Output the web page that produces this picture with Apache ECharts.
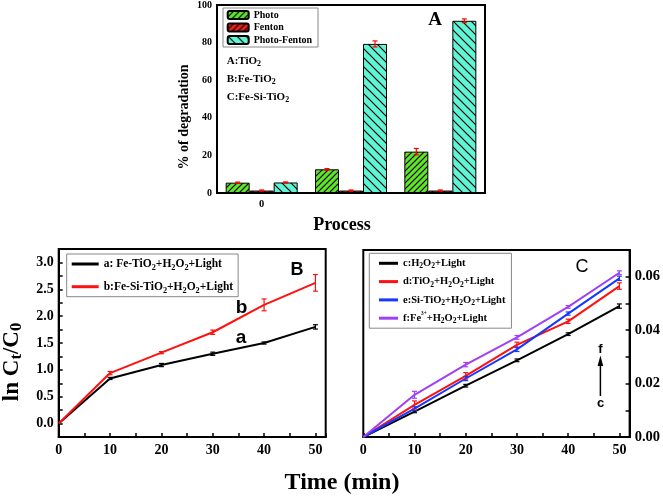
<!DOCTYPE html>
<html><head><meta charset="utf-8">
<script src="https://cdn.jsdelivr.net/npm/echarts@6/dist/echarts.min.js"></script>
<style>html,body{margin:0;padding:0;background:#fff}#c{width:663px;height:497px}</style>
</head><body><div id="c"></div>
<script>
// ---------- Panel A data ----------
const processCategories = ['0', '', ''];
const photoValues = [5.5, 12.6, 22.0];
const photoErrors = [0.3, 0.4, 1.7];
const fentonValues = [1.3, 1.3, 1.3];
const fentonErrors = [0.3, 0.3, 0.3];
const photoFentonValues = [5.6, 79.3, 91.6];
const photoFentonErrors = [0.3, 1.6, 1.0];
const yTicksA = [0, 20, 40, 60, 80, 100];

// ---------- Panel B data ----------
const timeB = [0, 10, 20, 30, 40, 50];
const lineA_B = [0, 0.84, 1.09, 1.30, 1.50, 1.80];
const errA_B = [0, 0.02, 0.03, 0.03, 0.02, 0.04];
const lineB_B = [0, 0.94, 1.32, 1.70, 2.21, 2.62];
const errB_B = [0, 0.03, 0.02, 0.04, 0.11, 0.155];

// ---------- Panel C data ----------
const timeC = [0, 10, 20, 30, 40, 50];
const cVals = [0, 0.0095, 0.0192, 0.0287, 0.0385, 0.0490];
const cErr = [0, 0.0004, 0.0005, 0.0005, 0.0005, 0.0008];
const dVals = [0, 0.0120, 0.0229, 0.0345, 0.0433, 0.0565];
const dErr = [0, 0.0015, 0.0012, 0.0010, 0.0008, 0.0012];
const eVals = [0, 0.0106, 0.0219, 0.0328, 0.0462, 0.0594];
const eErr = [0, 0.0007, 0.0008, 0.0008, 0.0006, 0.0008];
const fVals = [0, 0.0158, 0.0271, 0.0373, 0.0487, 0.0615];
const fErr = [0, 0.0013, 0.0008, 0.0007, 0.0005, 0.0007];

const SERIF = "'Liberation Serif','Times New Roman',serif";
const SANS = "'Liberation Sans',Arial,sans-serif";

function hatch(bg, s, dir, lw) {
  const c = document.createElement('canvas'); c.width = s; c.height = s;
  const g = c.getContext('2d');
  g.fillStyle = bg; g.fillRect(0, 0, s, s);
  g.strokeStyle = '#000'; g.lineWidth = lw;
  g.beginPath();
  if (dir > 0) {
    g.moveTo(-1, s + 1); g.lineTo(s + 1, -1);
    g.moveTo(-1, 1); g.lineTo(1, -1);
    g.moveTo(s - 1, s + 1); g.lineTo(s + 1, s - 1);
  } else {
    g.moveTo(-1, -1); g.lineTo(s + 1, s + 1);
    g.moveTo(s - 1, -1); g.lineTo(s + 1, 1);
    g.moveTo(-1, s - 1); g.lineTo(1, s + 1);
  }
  g.stroke();
  return c;
}
const photoPat = { image: hatch('#5fe52a', 6, 1, 1.2), repeat: 'repeat' };
const fentonPat = { image: hatch('#ee2020', 6, 1, 1.2), repeat: 'repeat' };
const pfPat = { image: hatch('#5ff5d5', 9, -1, 1.2), repeat: 'repeat' };

const BAR_W = 24;
function barSeries(name, vals, pat) {
  return { name, type: 'bar', xAxisIndex: 0, yAxisIndex: 0, data: vals, barWidth: BAR_W, barGap: '0%',
    itemStyle: { color: pat, borderColor: '#000', borderWidth: 1 } };
}
function barErr(vals, errs, idx) {
  return { type: 'custom', xAxisIndex: 0, yAxisIndex: 0, z: 10,
    data: vals.map((v, i) => [i, v, errs[i]]),
    renderItem(params, api) {
      const i = api.value(0), v = api.value(1), e = api.value(2);
      const t = api.coord([i, v + e]), b = api.coord([i, v - e]);
      const x = t[0] + (idx - 1) * BAR_W, w = 2.5;
      const st = { stroke: '#ff0000', lineWidth: 1.2 };
      return { type: 'group', children: [
        { type: 'line', shape: { x1: x, y1: t[1], x2: x, y2: b[1] }, style: st },
        { type: 'line', shape: { x1: x - w, y1: t[1], x2: x + w, y2: t[1] }, style: st },
        { type: 'line', shape: { x1: x - w, y1: b[1], x2: x + w, y2: b[1] }, style: st }
      ] };
    } };
}
function lineSeries(name, xs, ys, color, gi) {
  return { name, type: 'line', xAxisIndex: gi, yAxisIndex: gi, data: xs.map((x, i) => [x, ys[i]]),
    symbol: 'none', lineStyle: { color, width: 2 }, itemStyle: { color }, z: 3 };
}
function lineErr(xs, ys, es, color, gi) {
  return { type: 'custom', xAxisIndex: gi, yAxisIndex: gi, z: 5,
    data: xs.map((x, i) => [x, ys[i], es[i]]),
    renderItem(params, api) {
      const x0 = api.value(0), v = api.value(1), e = api.value(2);
      if (!e) return null;
      const t = api.coord([x0, v + e]), b = api.coord([x0, v - e]);
      const x = t[0], w = 2.5;
      const st = { stroke: color, lineWidth: 1.2 };
      return { type: 'group', children: [
        { type: 'line', shape: { x1: x, y1: t[1], x2: x, y2: b[1] }, style: st },
        { type: 'line', shape: { x1: x - w, y1: t[1], x2: x + w, y2: t[1] }, style: st },
        { type: 'line', shape: { x1: x - w, y1: b[1], x2: x + w, y2: b[1] }, style: st }
      ] };
    } };
}

const nameA = 'a: Fe-TiO2+H2O2+Light', nameB = 'b:Fe-Si-TiO2+H2O2+Light';
const nameC = 'c:H2O2+Light', nameD = 'd:TiO2+H2O2+Light', nameE = 'e:Si-TiO2+H2O2+Light', nameF = 'f:Fe3++H2O2+Light';
const richLabels = {};
richLabels[nameA] = 'a: Fe-TiO{s|2}+H{s|2}O{s|2}+Light';
richLabels[nameB] = 'b:Fe-Si-TiO{s|2}+H{s|2}O{s|2}+Light';
richLabels[nameC] = 'c:H{s|2}O{s|2}+Light';
richLabels[nameD] = 'd:TiO{s|2}+H{s|2}O{s|2}+Light';
richLabels[nameE] = 'e:Si-TiO{s|2}+H{s|2}O{s|2}+Light';
richLabels[nameF] = 'f:Fe{p|3+}+H{s|2}O{s|2}+Light';

function richStyle(fs, lh) {
  return { fontFamily: SERIF, fontWeight: 'bold', fontSize: fs, lineHeight: lh, color: '#000',
    rich: { s: { fontFamily: SERIF, fontWeight: 'bold', fontSize: fs * 0.72, lineHeight: fs * 0.72, verticalAlign: 'bottom', color: '#000' },
            p: { fontFamily: SERIF, fontWeight: 'bold', fontSize: fs * 0.5, lineHeight: fs * 0.5, verticalAlign: 'top', color: '#000' } } };
}

const axisLine = { onZero: false, lineStyle: { color: '#000', width: 2 } };
const tickStyle = { inside: true, length: 4, lineStyle: { color: '#000', width: 1.5 } };
function lab(fs, margin, fmt) {
  return { color: '#000', fontFamily: SERIF, fontWeight: 'bold', fontSize: fs, margin, formatter: fmt };
}
const timeFmt = v => (Math.abs(v % 10) < 1e-9 ? String(v) : '');

const option = {
  animation: false,
  backgroundColor: '#fff',
  grid: [
    { left: 217, top: 5, width: 268, height: 188, show: true, borderColor: '#000', borderWidth: 2 },
    { left: 58.7, top: 249, width: 267, height: 188, show: true, borderColor: '#000', borderWidth: 2 },
    { left: 363.3, top: 250, width: 267.4, height: 187, show: true, borderColor: '#000', borderWidth: 2 }
  ],
  xAxis: [
    { gridIndex: 0, type: 'category', data: processCategories, axisLine, axisTick: { show: false }, axisLabel: lab(10.5, 6) },
    { gridIndex: 1, type: 'value', min: 0, max: 52, interval: 5, axisLine, axisTick: tickStyle, splitLine: { show: false }, axisLabel: lab(14, 6, timeFmt) },
    { gridIndex: 2, type: 'value', min: 0, max: 52, interval: 5, axisLine, axisTick: tickStyle, splitLine: { show: false }, axisLabel: lab(14, 6, timeFmt) }
  ],
  yAxis: [
    { gridIndex: 0, type: 'value', min: yTicksA[0], max: yTicksA[yTicksA.length - 1], interval: 20, axisLine: { show: true, ...axisLine }, axisTick: { ...tickStyle, length: 3 }, splitLine: { show: false }, axisLabel: lab(10, 5) },
    { gridIndex: 1, type: 'value', min: -0.25, max: 3.25, interval: 0.25, axisLine: { show: true, ...axisLine }, axisTick: tickStyle, splitLine: { show: false },
      axisLabel: lab(14, 5, v => (Math.abs(v * 2 - Math.round(v * 2)) < 1e-6 ? v.toFixed(1) : '')) },
    { gridIndex: 2, type: 'value', position: 'right', min: 0, max: 0.07, interval: 0.01, axisLine: { show: true, ...axisLine }, axisTick: tickStyle, splitLine: { show: false },
      axisLabel: lab(14.5, 5, v => (Math.round(v * 100) % 2 === 0 ? v.toFixed(2) : '')) }
  ],
  legend: [
    { data: ['Photo', 'Fenton', 'Photo-Fenton'], left: 223, top: 8, orient: 'vertical', itemWidth: 21, itemHeight: 8, itemGap: 2.5,
      padding: [2, 6, 2, 3.7], borderColor: '#888', borderWidth: 1, backgroundColor: '#fff',
      textStyle: { fontFamily: SERIF, fontWeight: 'bold', fontSize: 10, lineHeight: 10, color: '#000' } },
    { data: [nameA, nameB], left: 66.7, top: 254, orient: 'vertical', icon: 'rect', itemWidth: 27, itemHeight: 3, itemGap: 6.7,
      padding: [2, 5, 2, 5], borderColor: '#888', borderWidth: 1, backgroundColor: '#fff',
      formatter: n => richLabels[n], textStyle: richStyle(11.5, 16) },
    { data: [nameC, nameD, nameE, nameF], left: 369.3, top: 253.3, orient: 'vertical', icon: 'rect', itemWidth: 19, itemHeight: 3, itemGap: 4.3,
      padding: [3, 6, 3, 9.7], borderColor: '#888', borderWidth: 1, backgroundColor: '#fff',
      formatter: n => richLabels[n], textStyle: richStyle(10.5, 14) }
  ],
  series: [
    barSeries('Photo', photoValues, photoPat),
    barSeries('Fenton', fentonValues, fentonPat),
    barSeries('Photo-Fenton', photoFentonValues, pfPat),
    barErr(photoValues, photoErrors, 0),
    barErr(fentonValues, fentonErrors, 1),
    barErr(photoFentonValues, photoFentonErrors, 2),
    lineSeries(nameA, timeB, lineA_B, '#000000', 1),
    lineSeries(nameB, timeB, lineB_B, '#ff1010', 1),
    lineErr(timeB, lineA_B, errA_B, '#000000', 1),
    lineErr(timeB, lineB_B, errB_B, '#ff1010', 1),
    lineSeries(nameC, timeC, cVals, '#000000', 2),
    lineSeries(nameD, timeC, dVals, '#ff1010', 2),
    lineSeries(nameE, timeC, eVals, '#1438ff', 2),
    lineSeries(nameF, timeC, fVals, '#a040f5', 2),
    lineErr(timeC, cVals, cErr, '#000000', 2),
    lineErr(timeC, dVals, dErr, '#ff1010', 2),
    lineErr(timeC, eVals, eErr, '#1438ff', 2),
    lineErr(timeC, fVals, fErr, '#a040f5', 2)
  ],
  graphic: [
    { type: 'text', x: 184, y: 117, rotation: Math.PI / 2, style: { text: '% of degradation', font: 'bold 14px ' + SERIF, fill: '#000', textAlign: 'center', textVerticalAlign: 'middle' } },
    { type: 'text', x: 342, y: 225, style: { text: 'Process', font: 'bold 18px ' + SERIF, fill: '#000', textAlign: 'center', textVerticalAlign: 'middle' } },
    { type: 'text', x: 435, y: 20, style: { text: 'A', font: 'bold 19px ' + SERIF, fill: '#000', textAlign: 'center', textVerticalAlign: 'middle' } },
    { type: 'text', x: 226.7, y: 54, style: { text: 'A:TiO{s|2}', ...richStyle(11, 14), fill: '#000' } },
    { type: 'text', x: 226.7, y: 72, style: { text: 'B:Fe-TiO{s|2}', ...richStyle(11, 14), fill: '#000' } },
    { type: 'text', x: 226.7, y: 90, style: { text: 'C:Fe-Si-TiO{s|2}', ...richStyle(11, 14), fill: '#000' } },
    { type: 'text', x: 12, y: 362, rotation: Math.PI / 2, style: { text: 'ln C{s|t}/C{s|0}', ...richStyle(23, 26), fill: '#000', align: 'center', verticalAlign: 'middle' } },
    { type: 'text', x: 342, y: 483, style: { text: 'Time (min)', font: 'bold 24px ' + SERIF, fill: '#000', textAlign: 'center', textVerticalAlign: 'middle' } },
    { type: 'text', x: 297, y: 270, style: { text: 'B', font: 'bold 18px ' + SANS, fill: '#000', textAlign: 'center', textVerticalAlign: 'middle' } },
    { type: 'text', x: 241.5, y: 308, style: { text: 'b', font: 'bold 19px ' + SANS, fill: '#000', textAlign: 'center', textVerticalAlign: 'middle' } },
    { type: 'text', x: 241, y: 338, style: { text: 'a', font: 'bold 19px ' + SANS, fill: '#000', textAlign: 'center', textVerticalAlign: 'middle' } },
    { type: 'text', x: 582, y: 267, style: { text: 'C', font: '18px ' + SANS, fill: '#000', textAlign: 'center', textVerticalAlign: 'middle' } },
    { type: 'text', x: 600.5, y: 349, style: { text: 'f', font: 'bold 13px ' + SANS, fill: '#000', textAlign: 'center', textVerticalAlign: 'middle' } },
    { type: 'text', x: 600.5, y: 403, style: { text: 'c', font: 'bold 13px ' + SANS, fill: '#000', textAlign: 'center', textVerticalAlign: 'middle' } },
    { type: 'line', shape: { x1: 600.4, y1: 364, x2: 600.4, y2: 396 }, style: { stroke: '#000', lineWidth: 1.5 } },
    { type: 'polygon', shape: { points: [[600.4, 355.5], [597.6, 366], [603.2, 366]] }, style: { fill: '#000' } }
  ]
};
const chart = echarts.init(document.getElementById('c'), null, { renderer: 'canvas' });
chart.setOption(option);
</script>
</body></html>
